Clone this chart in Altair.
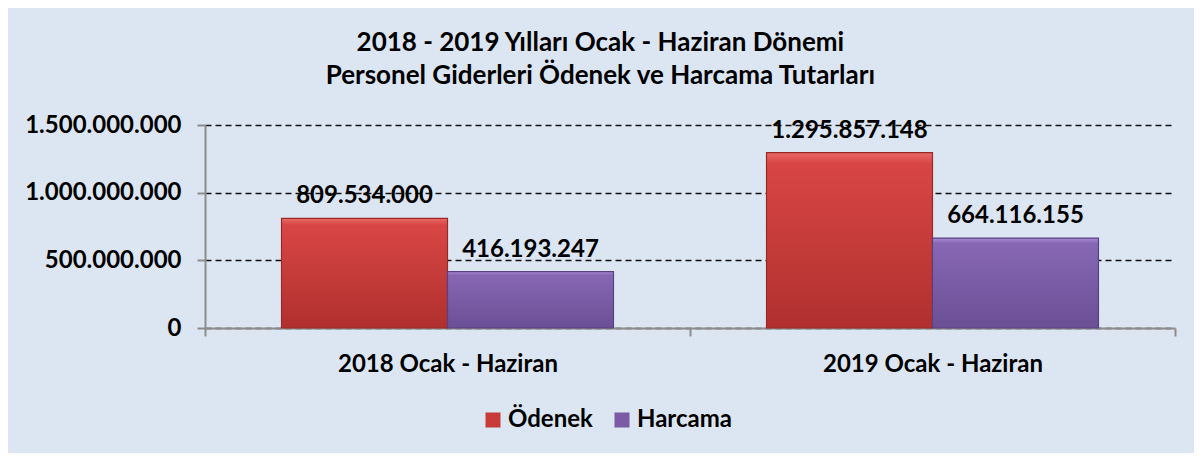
import altair as alt
import pandas as pd

periods = ["2018 Ocak - Haziran", "2019 Ocak - Haziran"]
series = ["Ödenek", "Harcama"]
odenek = [809534000, 1295857148]
harcama = [416193247, 664116155]
y_ticks = [0, 500000000, 1000000000, 1500000000]
colors = ["#c93b39", "#7b5ba5"]
strokes = ["#9a2a28", "#5a4080"]

rows = []
for i, p in enumerate(periods):
    for s, vals in zip(series, [odenek, harcama]):
        v = vals[i]
        rows.append({"period": p, "series": s, "value": v,
                     "label": f"{v:,}".replace(",", ".")})
df = pd.DataFrame(rows)

FONT = "Lato"
PLOT_W, PLOT_H = 970, 203


def grad(top, mid, bottom):
    return {"gradient": "linear", "x1": 0, "y1": 0, "x2": 0, "y2": 1,
            "stops": [{"offset": 0, "color": top},
                      {"offset": 0.06, "color": mid},
                      {"offset": 1, "color": bottom}]}


grads = [grad("#e86a68", "#d84644", "#b0302f"),
         grad("#a98bd6", "#8767b4", "#6b4f95")]

x = alt.X("period:N", sort=periods, title=None,
          scale=alt.Scale(paddingInner=0, paddingOuter=0),
          axis=alt.Axis(labelAngle=0, labelFontSize=24, labelFont=FONT,
                        labelFontWeight="bold", labelColor="#000000", labelLimit=0,
                        tickBand="extent", tickSize=8, tickColor="#8c8c8c",
                        domainColor="#8c8c8c", domainWidth=2, tickWidth=2,
                        labelPadding=16, grid=False))
xo = alt.XOffset("series:N", sort=series,
                 scale=alt.Scale(paddingInner=0, paddingOuter=0.461))
y = alt.Y("value:Q", title=None,
          scale=alt.Scale(domain=[0, 1500000000], nice=False),
          axis=alt.Axis(values=y_ticks, labelFontSize=24, labelFont=FONT,
                        labelFontWeight="bold", labelColor="#000000",
                        labelExpr="replace(format(datum.value, ','), regexp(',', 'g'), '.')",
                        tickSize=8, tickColor="#8c8c8c", tickWidth=2,
                        domainColor="#8c8c8c", domainWidth=2, labelPadding=16,
                        grid=True, gridColor="#111111", gridDash=[6, 4],
                        gridWidth=1.5))

base = alt.Chart(df)

bars = base.mark_bar(strokeWidth=1).encode(
    x=x, xOffset=xo, y=y,
    color=alt.Color("series:N", sort=series,
                    scale=alt.Scale(domain=series, range=colors),
                    legend=alt.Legend(title=None, orient="none", direction="horizontal",
                                      legendX=276, legendY=283,
                                      symbolType="square", symbolSize=225,
                                      symbolStrokeWidth=0,
                                      labelFont=FONT, labelFontSize=24,
                                      labelFontWeight="bold", labelColor="#000000",
                                      columnPadding=17, labelOffset=3)),
)

overlays = []
for s, g, st in zip(series, grads, strokes):
    overlays.append(
        base.transform_filter(alt.datum.series == s).mark_bar(strokeWidth=1.2).encode(
            x=x, xOffset=xo, y=y,
            fill=alt.value(g), stroke=alt.value(st))
    )

labels = base.mark_text(font=FONT, fontSize=24, fontWeight="bold", color="#000000",
                        baseline="bottom", dy=-10).encode(
    x=x, xOffset=xo, y=y, text="label:N")

chart = alt.layer(bars, *overlays, labels).properties(
    width=PLOT_W, height=PLOT_H,
    autosize=alt.AutoSizeParams(type="none"),
    padding={"left": 197, "top": 117, "right": 19, "bottom": 125},
    background="#dce6f2",
    title=alt.TitleParams(
        text=["2018 - 2019 Yılları Ocak - Haziran Dönemi",
              "Personel Giderleri Ödenek ve Harcama Tutarları"],
        font=FONT, fontSize=26, fontWeight="bold", color="#000000",
        anchor="middle", frame="bounds", lineHeight=33, offset=24),
).configure_view(stroke=None)

chart.save("out.html", embed_options={"renderer": "svg", "actions": False})
